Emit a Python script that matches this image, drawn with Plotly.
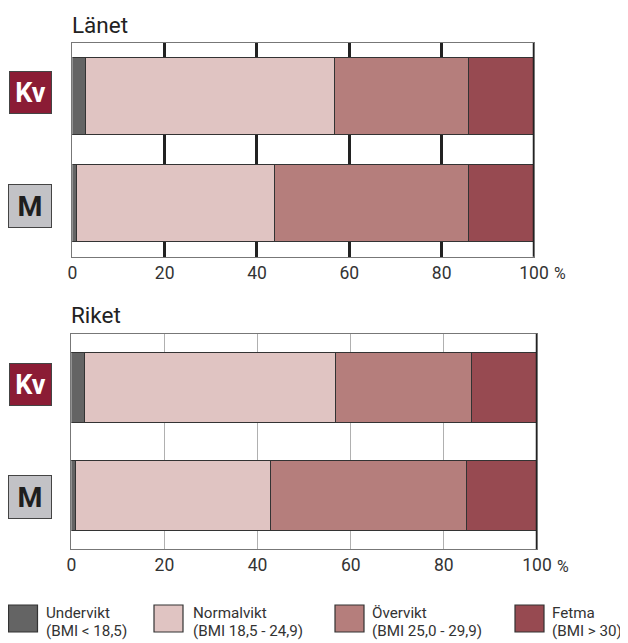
import plotly.graph_objects as go

# Page body has an 8px default margin; figure fills the rest of the 628x643 window
OFF = 8
W, H = 628 - OFF, 643 - OFF

categories = ["Undervikt", "Normalvikt", "Övervikt", "Fetma"]
bmi_ranges = ["(BMI < 18,5)", "(BMI 18,5 - 24,9)", "(BMI 25,0 - 29,9)", "(BMI > 30)"]
colors = ["#646464", "#e0c4c2", "#b57e7c", "#974a51"]
groups = ["Kv", "M"]

lanet_kv = [3, 54, 29, 14]
lanet_m = [1, 43, 42, 14]
riket_kv = [3, 54, 29, 14]
riket_m = [1, 42, 42, 15]

tick_vals = [0, 20, 40, 60, 80, 100]
tick_text = ["0", "20", "40", "60", "80", "100"]

panels = [
    dict(title="Länet", kv=lanet_kv, m=lanet_m, xd=(72.3, 534.0), yd=(43.0, 256.7),
         width=0.72, grid="#222222", gw=2.5, kvs=4, ms=-3),
    dict(title="Riket", kv=riket_kv, m=riket_m, xd=(71.3, 537.0), yd=(333.7, 549.3),
         width=0.65, grid="#b0b0b0", gw=1, kvs=3, ms=-2),
]

def px(x):
    return (x - OFF) / W

def py(y):
    return 1 - (y - OFF) / H

fig = go.Figure()
annotations = []
shapes = []
FONT = "Roboto, 'Noto Sans', sans-serif"

for i, p in enumerate(panels):
    sfx = "" if i == 0 else str(i + 1)
    xa, ya = "x" + sfx, "y" + sfx
    for j, cat in enumerate(categories):
        fig.add_trace(go.Bar(
            x=[p["kv"][j], p["m"][j]], y=[0, 1], orientation="h",
            name=cat, marker=dict(color=colors[j], line=dict(color="#333333", width=1)),
            width=p["width"], xaxis=xa, yaxis=ya, showlegend=False,
        ))
    fig.layout["xaxis" + sfx] = dict(
        domain=[px(p["xd"][0]), px(p["xd"][1])], anchor=ya, range=[0, 100],
        tickvals=tick_vals, ticktext=tick_text, showgrid=True, gridcolor=p["grid"],
        gridwidth=p["gw"], zeroline=False, showline=True, linecolor="#777777",
        linewidth=1, mirror=True, ticks="", tickfont=dict(size=17.5, color="#333333", family=FONT),
        fixedrange=True, automargin=False,
    )
    fig.layout["yaxis" + sfx] = dict(
        domain=[py(p["yd"][1]), py(p["yd"][0])], anchor=xa, range=[1.5, -0.5],
        showticklabels=False, showgrid=False, zeroline=False, showline=True,
        linecolor="#777777", linewidth=1, mirror=True, ticks="", fixedrange=True,
        automargin=False,
    )
    # right border line at 100
    shapes.append(dict(type="line", xref=xa, yref=ya + " domain", x0=100, x1=100, y0=0, y1=1,
                       line=dict(color="#222222", width=2.5)))
    # title
    annotations.append(dict(text=p["title"], xref="paper", yref="paper", x=px(p["xd"][0] - 1),
                            y=py(p["yd"][0] - 18.5), xanchor="left", yanchor="middle", showarrow=False,
                            borderpad=0, font=dict(size=22.5, color="#222222", family=FONT)))
    # percent sign
    annotations.append(dict(text="%", xref=xa, yref="paper", x=100, y=py(p["yd"][1] + 17),
                            xanchor="left", yanchor="middle", xshift=19, showarrow=False,
                            borderpad=0, font=dict(size=16, color="#333333", family=FONT)))
    # group labels
    annotations.append(dict(text="<b>Kv</b>", xref="paper", yref=ya, x=px(30.2), y=0,
                            yshift=p["kvs"], xanchor="center", yanchor="middle", showarrow=False,
                            bgcolor="#8b1c35", bordercolor="#444444", borderwidth=1, borderpad=0,
                            width=41, height=41, font=dict(size=27, color="white", family=FONT)))
    annotations.append(dict(text="<b>M</b>", xref="paper", yref=ya, x=px(30.0), y=1,
                            yshift=p["ms"], xanchor="center", yanchor="middle", showarrow=False,
                            bgcolor="#c2c2c6", bordercolor="#444444", borderwidth=1, borderpad=0,
                            width=42, height=42, font=dict(size=28.5, color="#1e1e1e", family=FONT)))

# legend drawn manually
leg_sq_x = [8.5, 154, 335, 515]
leg_txt_x = [45, 191.5, 370.5, 550.5]
for j, cat in enumerate(categories):
    shapes.append(dict(type="rect", xref="paper", yref="paper",
                       x0=px(leg_sq_x[j]), x1=px(leg_sq_x[j] + 29), y0=py(632), y1=py(605),
                       fillcolor=colors[j], line=dict(color="#333333", width=1.2)))
    annotations.append(dict(text=cat, xref="paper", yref="paper",
                            x=px(leg_txt_x[j]), y=py(613), xanchor="left", yanchor="middle",
                            align="left", showarrow=False, borderpad=0,
                            font=dict(size=15.2, color="#333333", family=FONT)))
    annotations.append(dict(text=bmi_ranges[j], xref="paper", yref="paper",
                            x=px(leg_txt_x[j]), y=py(630.5), xanchor="left", yanchor="middle",
                            align="left", showarrow=False, borderpad=0,
                            font=dict(size=15.2, color="#333333", family=FONT)))

fig.update_layout(
    width=W, height=H, margin=dict(l=0, r=0, t=0, b=0, autoexpand=False),
    paper_bgcolor="white", plot_bgcolor="white", barmode="stack", bargap=0,
    annotations=annotations, shapes=shapes, showlegend=False,
    font=dict(family=FONT),
)

fig.write_html("out.html")
